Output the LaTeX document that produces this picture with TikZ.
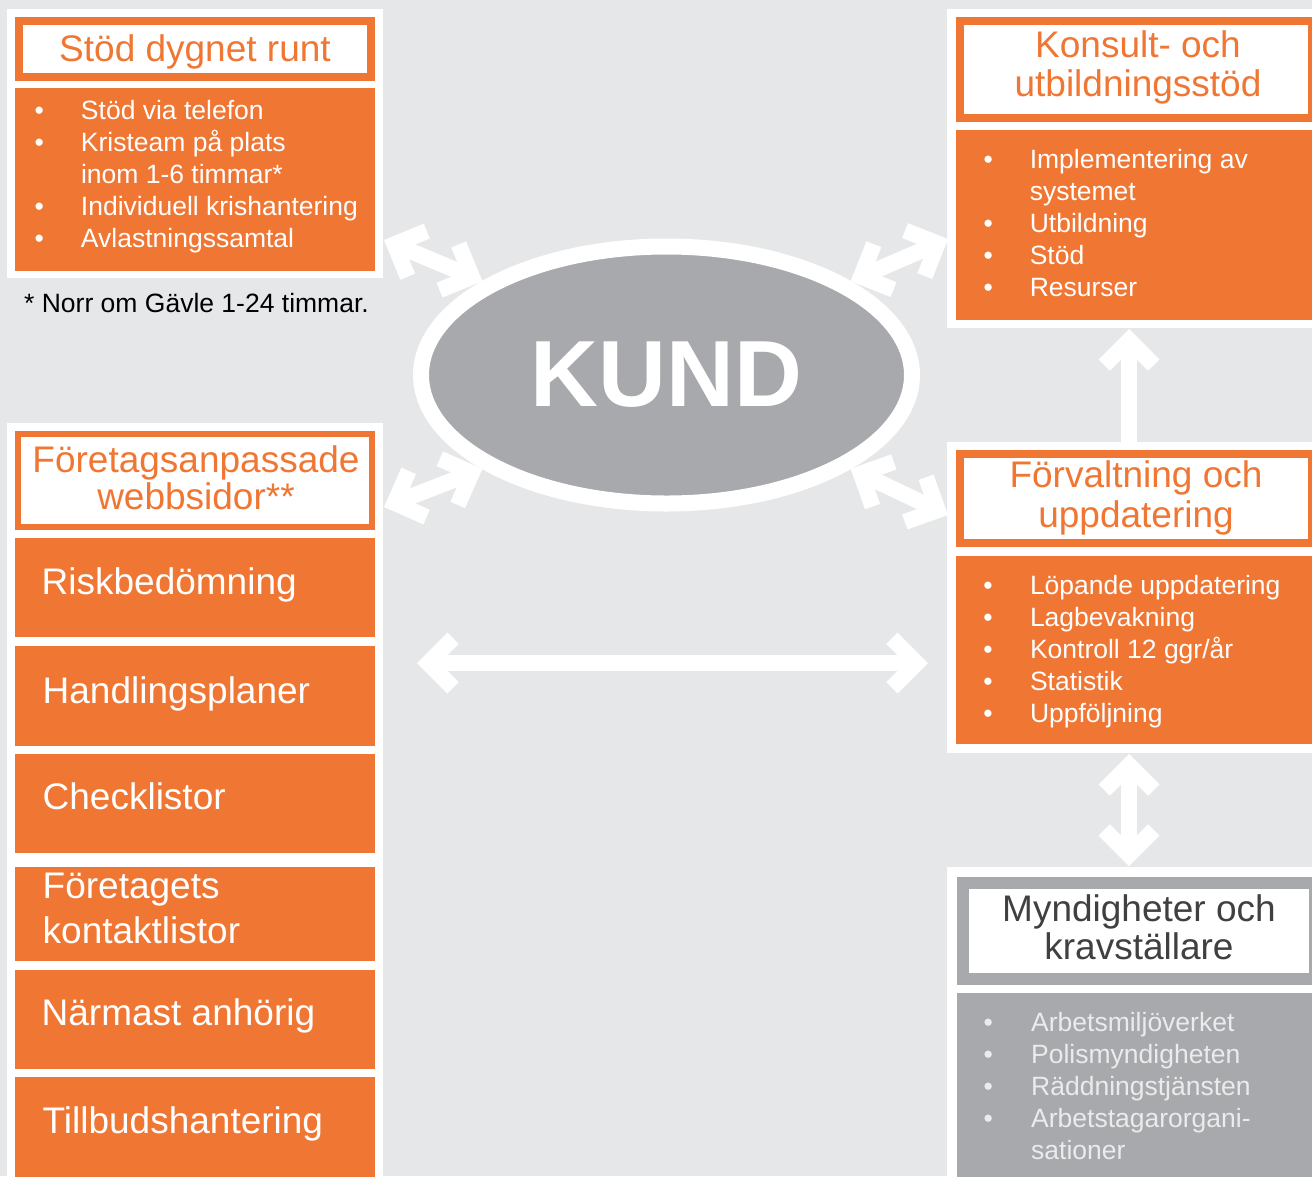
\documentclass[tikz,border=0pt]{standalone}
\usepackage{fontspec}
\setmainfont{Liberation Sans}
\usetikzlibrary{arrows.meta,shapes.geometric}
\definecolor{bg}{HTML}{E6E7E8}
\definecolor{ora}{HTML}{F07633}
\definecolor{gry}{HTML}{A7A9AC}
\definecolor{dgry}{HTML}{404041}
\definecolor{lgry}{HTML}{EBEBEB}
\pgfdeclarearrow{
  name = Chev,
  setup code = {
    \pgfarrowssettipend{0pt}
    \pgfarrowssetbackend{-41.7pt}
    \pgfarrowssetlineend{-12pt}
  },
  drawing code = {
    \pgfpathmoveto{\pgfqpoint{0pt}{0pt}}
    \pgfpathlineto{\pgfqpoint{-30.4pt}{30.4pt}}
    \pgfpathlineto{\pgfqpoint{-41.7pt}{19.1pt}}
    \pgfpathlineto{\pgfqpoint{-22.6pt}{0pt}}
    \pgfpathlineto{\pgfqpoint{-41.7pt}{-19.1pt}}
    \pgfpathlineto{\pgfqpoint{-30.4pt}{-30.4pt}}
    \pgfpathclose
    \pgfusepathqfill
  }
}
\begin{document}
\begin{tikzpicture}[x=1pt,y=-1pt,
  panel/.style={rectangle, fill=white, draw=none, inner sep=0pt, outer sep=0pt},
  tframe/.style={rectangle, fill=white, draw=#1, inner sep=0pt, outer sep=0pt},
  body/.style={rectangle, fill=#1, draw=none, inner sep=0pt, outer sep=0pt},
  ttl/.style={inner sep=0pt, anchor=base, text=ora},
  itm/.style={inner sep=0pt, anchor=base west, text=white, font=\fontsize{26.5}{32}\selectfont},
  big/.style={inner sep=0pt, anchor=base west, text=white, font=\fontsize{37}{45}\selectfont},
  conn/.style={color=white, line width=16pt, arrows={Chev-Chev}},
  oneway/.style={color=white, line width=16pt, arrows={-Chev}}
]
\useasboundingbox (0,0) rectangle (1312,1176);
\clip (0,0) rectangle (1312,1176);
\fill[bg] (0,0) rectangle (1312,1176);

% ---------- top-left panel ----------
\node[panel, minimum width=376pt, minimum height=269pt] (p1) at (195,143.5) {};
\node[tframe=ora, line width=8pt, minimum width=352pt, minimum height=56pt] (p1t) at (195,49) {};
\node[body=ora, minimum width=360pt, minimum height=183pt] (p1b) at (195,179.5) {};
\node[ttl, font=\fontsize{37}{38}\selectfont] (p1tt) at (195,61.7) {Stöd dygnet runt};
\node[itm] (p1l) at (34.4,119) {\begin{tabular}[t]{@{}p{46.4pt}@{}l@{}}
•&Stöd via telefon\\
•&Kristeam på plats\\
&inom 1-6 timmar*\\
•&Individuell krishantering\\
•&Avlastningssamtal
\end{tabular}};
\node[inner sep=0pt, anchor=base west, font=\fontsize{26.5}{30}\selectfont] (note) at (24,312) {* Norr om Gävle 1-24 timmar.};

% ---------- bottom-left panel ----------
\node[panel, minimum width=376pt, minimum height=777pt] (p2) at (195,811.5) {};
\node[tframe=ora, line width=6pt, minimum width=354pt, minimum height=93pt] (p2t) at (195,480.5) {};
\node[ttl, font=\fontsize{37}{36}\selectfont] (p2tt) at (196,472) {\begin{tabular}[t]{@{}c@{}}Företagsanpassade\\webbsidor**\end{tabular}};
\node[body=ora, minimum width=360pt, minimum height=99pt] (b1) at (195,587.5) {};
\node[body=ora, minimum width=360pt, minimum height=99.2pt] (b2) at (195,696) {};
\node[body=ora, minimum width=360pt, minimum height=98.5pt] (b3) at (195,803.55) {};
\node[body=ora, minimum width=360pt, minimum height=94pt] (b4) at (195,913.8) {};
\node[body=ora, minimum width=360pt, minimum height=99.2pt] (b5) at (195,1019.1) {};
\node[body=ora, minimum width=360pt, minimum height=122.6pt] (b6) at (195,1138.7) {};
\node[big] (b1t) at (41.5,594.5) {Riskbedömning};
\node[big] (b2t) at (42.5,703) {Handlingsplaner};
\node[big] (b3t) at (42.5,809.3) {Checklistor};
\node[big] (b4t) at (42.5,898) {\begin{tabular}[t]{@{}l@{}}Företagets\\kontaktlistor\end{tabular}};
\node[big] (b5t) at (41.5,1025.2) {Närmast anhörig};
\node[big] (b6t) at (42.5,1133.2) {Tillbudshantering};

% ---------- Konsult panel ----------
\node[panel, minimum width=383pt, minimum height=319pt] (p3) at (1138.5,168.5) {};
\node[tframe=ora, line width=8pt, minimum width=352pt, minimum height=97pt] (p3t) at (1136,69.5) {};
\node[body=ora, minimum width=374pt, minimum height=190pt] (p3b) at (1143,225) {};
\node[ttl, font=\fontsize{37}{39}\selectfont] (p3tt) at (1138,57) {\begin{tabular}[t]{@{}c@{}}Konsult- och\\utbildningsstöd\end{tabular}};
\node[itm] (p3l) at (983.4,168.5) {\begin{tabular}[t]{@{}p{46.2pt}@{}l@{}}
•&Implementering av\\
&systemet\\
•&Utbildning\\
•&Stöd\\
•&Resurser
\end{tabular}};

% ---------- Förvaltning panel ----------
\node[panel, minimum width=383pt, minimum height=311pt] (p4) at (1138.5,597.5) {};
\node[tframe=ora, line width=8pt, minimum width=352pt, minimum height=89pt] (p4t) at (1136,498.5) {};
\node[body=ora, minimum width=374pt, minimum height=188pt] (p4b) at (1143,650) {};
\node[ttl, font=\fontsize{37}{39.5}\selectfont] (p4tt) at (1136,487.5) {\begin{tabular}[t]{@{}c@{}}Förvaltning och\\uppdatering\end{tabular}};
\node[itm] (p4l) at (983.1,594) {\begin{tabular}[t]{@{}p{46.7pt}@{}l@{}}
•&Löpande uppdatering\\
•&Lagbevakning\\
•&Kontroll 12 ggr/år\\
•&Statistik\\
•&Uppföljning
\end{tabular}};

% ---------- Myndigheter panel ----------
\node[panel, minimum width=383pt, minimum height=333pt] (p5) at (1138.5,1033.5) {};
\node[tframe=gry, line width=11.5pt, minimum width=352pt, minimum height=96pt] (p5t) at (1138.75,930.75) {};
\node[body=gry, minimum width=373pt, minimum height=207pt] (p5b) at (1143.5,1096.5) {};
\node[ttl, text=dgry, font=\fontsize{37}{37}\selectfont] (p5tt) at (1139,921.7) {\begin{tabular}[t]{@{}c@{}}Myndigheter och\\kravställare\end{tabular}};
\node[itm, text=lgry] (p5l) at (983.4,1031.5) {\begin{tabular}[t]{@{}p{47.6pt}@{}l@{}}
•&Arbetsmiljöverket\\
•&Polismyndigheten\\
•&Räddningstjänsten\\
•&Arbetstagarorgani-\\
&sationer
\end{tabular}};

% ---------- KUND ----------
\node[ellipse, fill=gry, draw=white, line width=16pt, outer sep=8pt, inner sep=0pt,
      minimum width=491pt, minimum height=257pt, text=white,
      font=\fontsize{94}{94}\selectfont\bfseries] (kund) at (666.5,375) {KUND};

% ---------- connectors ----------
\coordinate (c1) at (384,240);
\coordinate (c2) at (948,239);
\coordinate (c3) at (384,507);
\coordinate (c4) at (948,515);
\coordinate (hl) at (417,663);
\coordinate (hr) at (928,663);
\coordinate (u1) at (1129,442);
\coordinate (u2) at (1129,329);
\coordinate (v1) at (1129,754);
\coordinate (v2) at (1129,866);
\draw[conn] (c1) -- (kund.153);
\draw[conn] (kund.27) -- (c2);
\draw[conn] (c3) -- (kund.207);
\draw[conn] (kund.333) -- (c4);
\draw[conn] (hl) -- (hr);
\draw[oneway] (u1) -- (u2);
\draw[conn] (v1) -- (v2);
\end{tikzpicture}
\end{document}
